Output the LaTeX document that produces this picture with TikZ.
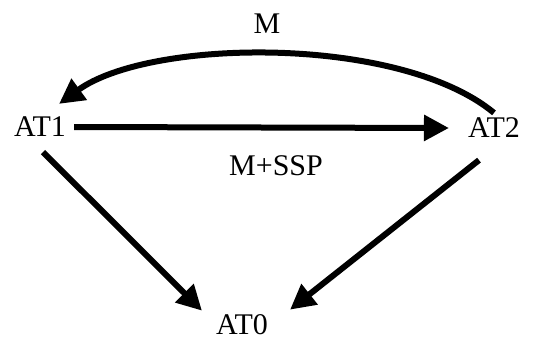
\documentclass[tikz,border=0pt]{standalone}
\usepackage{fontspec}
\setmainfont{Liberation Serif}
\usetikzlibrary{arrows.meta}
\begin{document}
\begin{tikzpicture}[x=1pt,y=1pt,
  lbl/.style={inner sep=0pt,font=\fontsize{30}{35}\selectfont},
  arr/.style={line width=6pt,-{Triangle[length=25pt,width=25pt]}}]
\useasboundingbox (0,0) rectangle (538,341);
% states
\node[lbl] (AT1) at (40,214) {AT1};
\node[lbl] (AT2) at (494,213) {AT2};
\node[lbl] (AT0) at (242,16) {AT0};
% edge labels
\node[lbl] (lM) at (267,317) {M};
\node[lbl] (lMS) at (276,175) {M+SSP};
% transitions
\draw[arr] ([xshift=8pt]AT1.east) -- ([xshift=-19pt]AT2.west);
\draw[arr] ([yshift=5pt]AT2.north) .. controls (400,306) and (150,303) .. ([xshift=-7pt,yshift=13pt]AT1.north east);
\draw[arr] ([xshift=3pt,yshift=-15pt]AT1.south) -- ([xshift=-14pt,yshift=4pt]AT0.north west);
\draw[arr] ([xshift=-15pt,yshift=-22pt]AT2.south) -- ([xshift=22pt,yshift=5pt]AT0.north east);
\end{tikzpicture}
\end{document}
